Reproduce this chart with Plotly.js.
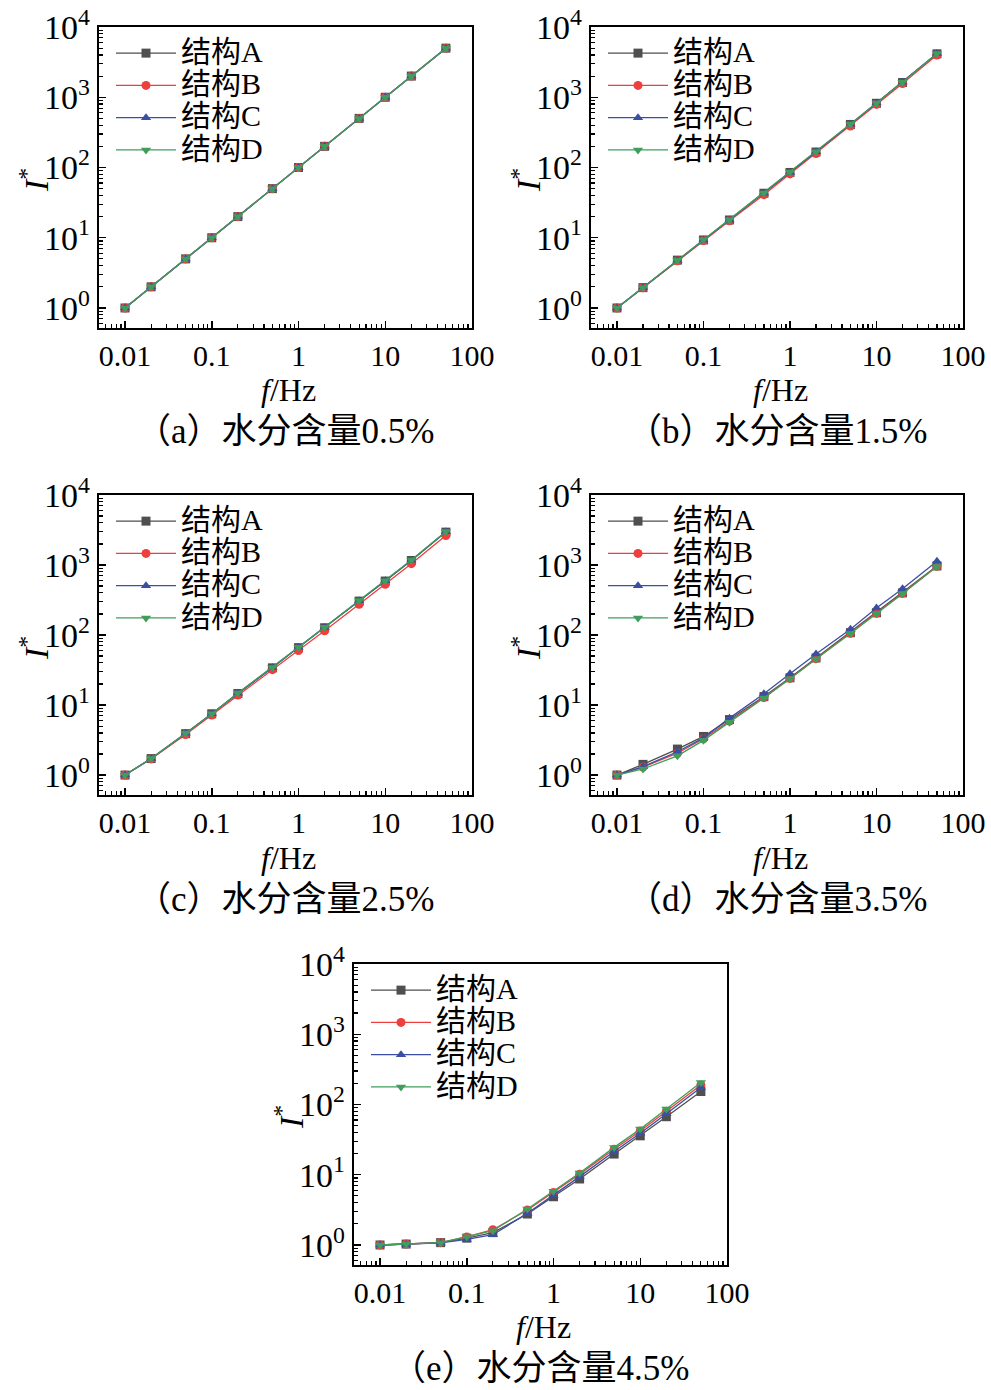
<!DOCTYPE html>
<html>
<head>
<meta charset="utf-8">
<script src="https://cdn.plot.ly/plotly-3.0.1.min.js"></script>
<style>html,body{margin:0;padding:0;background:#fff;}#chart{width:991px;height:1390px;}</style>
</head>
<body>
<div id="chart"></div>
<script>
// ---- data ----
const freq = [0.01, 0.02, 0.05, 0.1, 0.2, 0.5, 1, 2, 5, 10, 20, 50];
const seriesNames = ['结构A', '结构B', '结构C', '结构D'];
const captions = ['（a）水分含量0.5%', '（b）水分含量1.5%', '（c）水分含量2.5%', '（d）水分含量3.5%', '（e）水分含量4.5%'];
const xTickVals = [0.01, 0.1, 1, 10, 100];
const xTickText = ['0.01', '0.1', '1', '10', '100'];
const yTickVals = [1, 10, 100, 1000, 10000];
const yTickText = ['10<sup>0</sup>', '10<sup>1</sup>', '10<sup>2</sup>', '10<sup>3</sup>', '10<sup>4</sup>'];

const a_A = [1, 2, 5, 10, 20, 50, 100, 200, 500, 1000, 2000, 5000];
const a_B = [1, 2, 5, 10, 20, 50, 100, 200, 500, 1000, 2000, 5000];
const a_C = [1, 2, 5, 10, 20, 50, 100, 200, 500, 1000, 2000, 5000];
const a_D = [1, 2, 5, 10, 20, 50, 100, 200, 500, 1000, 2000, 5000];

const b_A = [1, 1.95, 4.8, 9.3, 17.9, 43, 85, 166, 410, 820, 1620, 4150];
const b_B = [1, 1.94, 4.7, 9.1, 17.4, 41, 81, 158, 390, 790, 1570, 4000];
const b_C = [1, 1.95, 4.8, 9.3, 17.9, 43, 85, 167, 412, 825, 1630, 4180];
const b_D = [1, 1.96, 4.8, 9.4, 18, 43.5, 86, 168, 415, 830, 1640, 4200];

const c_A = [1, 1.72, 3.9, 7.5, 14.6, 34, 66, 127, 305, 590, 1160, 2950];
const c_B = [1, 1.70, 3.8, 7.2, 13.9, 32, 60, 115, 275, 530, 1045, 2640];
const c_C = [1, 1.72, 3.95, 7.5, 14.7, 34.2, 67, 128, 308, 595, 1170, 2980];
const c_D = [1, 1.72, 3.95, 7.5, 14.8, 34.5, 67, 129, 310, 598, 1175, 3000];

const d_A = [1, 1.42, 2.35, 3.56, 6.2, 13.2, 24.5, 47, 108, 208, 400, 970];
const d_B = [1, 1.3, 2.05, 3.3, 5.9, 12.8, 24, 46, 106, 205, 395, 960];
const d_C = [1, 1.32, 2.15, 3.4, 6.5, 14.5, 27.9, 53.6, 121, 243, 457, 1130];
const d_D = [1, 1.22, 1.88, 3.13, 5.7, 12.6, 23.7, 45.6, 105, 202, 388, 955];

const e_A = [1, 1.03, 1.08, 1.25, 1.5, 2.76, 4.86, 8.7, 19.7, 35.8, 67, 153];
const e_B = [1, 1.03, 1.08, 1.3, 1.65, 3.15, 5.6, 10.2, 23, 42, 80, 190];
const e_C = [1, 1.02, 1.07, 1.2, 1.4, 2.82, 5.1, 9.4, 21.4, 39, 74, 175];
const e_D = [1, 1.03, 1.08, 1.31, 1.6, 3.25, 5.8, 10.6, 24.5, 44.6, 86, 205];

const panelData = [
  [a_A, a_B, a_C, a_D],
  [b_A, b_B, b_C, b_D],
  [c_A, c_B, c_C, c_D],
  [d_A, d_B, d_C, d_D],
  [e_A, e_B, e_C, e_D]
];

// ---- styles ----
const colors = ['#4f4f4f', '#ee3e3e', '#3a4fa3', '#3f9e5c'];
const symbols = ['square', 'circle', 'triangle-up', 'triangle-down'];
const W = 991, H = 1390;
const SERIF = '"Liberation Serif", "Noto Sans CJK SC", serif';
// panel boxes in pixels: [left, top, right, bottom]
const boxes = [
  [99, 27, 472, 328],
  [591, 27, 963, 328],
  [99, 495, 472, 795],
  [591, 495, 963, 795],
  [354, 964, 727, 1265]
];

const px = x => x / W;
const py = y => 1 - y / H;

const minorVals = [];
for (let k = -3; k <= 4; k++) {
  for (let m = 2; m <= 9; m++) minorVals.push(m * Math.pow(10, k));
}

const traces = [];
const layout = {
  width: W, height: H,
  margin: {l: 0, r: 0, t: 0, b: 0},
  paper_bgcolor: '#fff', plot_bgcolor: '#fff',
  showlegend: true,
  font: {family: SERIF, color: '#000'},
  annotations: []
};

boxes.forEach((b, i) => {
  const n = i + 1;
  const xa = 'xaxis' + (n === 1 ? '' : n);
  const ya = 'yaxis' + (n === 1 ? '' : n);
  const legName = 'legend' + (n === 1 ? '' : n);
  layout[xa] = {
    type: 'log', domain: [px(b[0]), px(b[2])], range: [-2.3, 2],
    anchor: 'y' + (n === 1 ? '' : n),
    tickmode: 'array', tickvals: xTickVals, ticktext: xTickText,
    ticks: 'inside', ticklen: 7, tickwidth: 1.5, tickcolor: '#000',
    showline: true, linecolor: '#000', linewidth: 2.2, mirror: true,
    showgrid: false, zeroline: false,
    tickfont: {family: SERIF, size: 30, color: '#000'},
    minor: {tickvals: minorVals, ticks: 'inside', ticklen: 4, tickwidth: 1.2, tickcolor: '#000', showgrid: false},
    fixedrange: true
  };
  layout[ya] = {
    type: 'log', domain: [py(b[3]), py(b[1])], range: [-0.285, 4],
    anchor: 'x' + (n === 1 ? '' : n),
    tickmode: 'array', tickvals: yTickVals, ticktext: yTickText,
    ticks: 'inside', ticklen: 7, tickwidth: 1.5, tickcolor: '#000',
    showline: true, linecolor: '#000', linewidth: 2.2, mirror: true,
    showgrid: false, zeroline: false,
    tickfont: {family: SERIF, size: 34, color: '#000'},
    minor: {tickvals: minorVals, ticks: 'inside', ticklen: 4, tickwidth: 1.2, tickcolor: '#000', showgrid: false},
    fixedrange: true
  };
  layout[legName] = {
    x: px(b[0] + 12), y: py(b[1] + 5), xanchor: 'left', yanchor: 'top',
    bgcolor: 'rgba(0,0,0,0)', borderwidth: 0,
    font: {family: SERIF, size: 22.5, color: '#000'},
    itemwidth: 60, tracegroupgap: 0
  };
  panelData[i].forEach((ys, s) => {
    traces.push({
      type: 'scatter', mode: 'lines+markers',
      x: freq, y: ys,
      name: '<span style="font-size:30px">' + seriesNames[s] + '</span>',
      xaxis: 'x' + (n === 1 ? '' : n), yaxis: 'y' + (n === 1 ? '' : n),
      legend: legName,
      line: {color: colors[s], width: 1.3},
      marker: {symbol: symbols[s], size: 9, color: colors[s]},
      hoverinfo: 'skip'
    });
  });
  // axis titles and captions
  layout.annotations.push({
    xref: 'paper', yref: 'paper', x: px(b[0] + 189), y: py(b[1] + 363),
    xanchor: 'center', yanchor: 'middle', showarrow: false,
    text: '<i>f</i>/Hz', font: {family: SERIF, size: 32, color: '#000'}
  });
  layout.annotations.push({
    xref: 'paper', yref: 'paper', x: px(b[0] - 65), y: py(b[1] + 153),
    xanchor: 'center', yanchor: 'middle', showarrow: false, textangle: -90,
    text: '<i>I</i><sup>*</sup>', font: {family: SERIF, size: 34, color: '#000'}
  });
  layout.annotations.push({
    xref: 'paper', yref: 'paper', x: px(b[0] + 186), y: py(b[1] + 404),
    xanchor: 'center', yanchor: 'middle', showarrow: false,
    text: captions[i], font: {family: SERIF, size: 35, color: '#000'}
  });
});

Plotly.newPlot('chart', traces, layout, {staticPlot: true, displayModeBar: false});
</script>
</body>
</html>
